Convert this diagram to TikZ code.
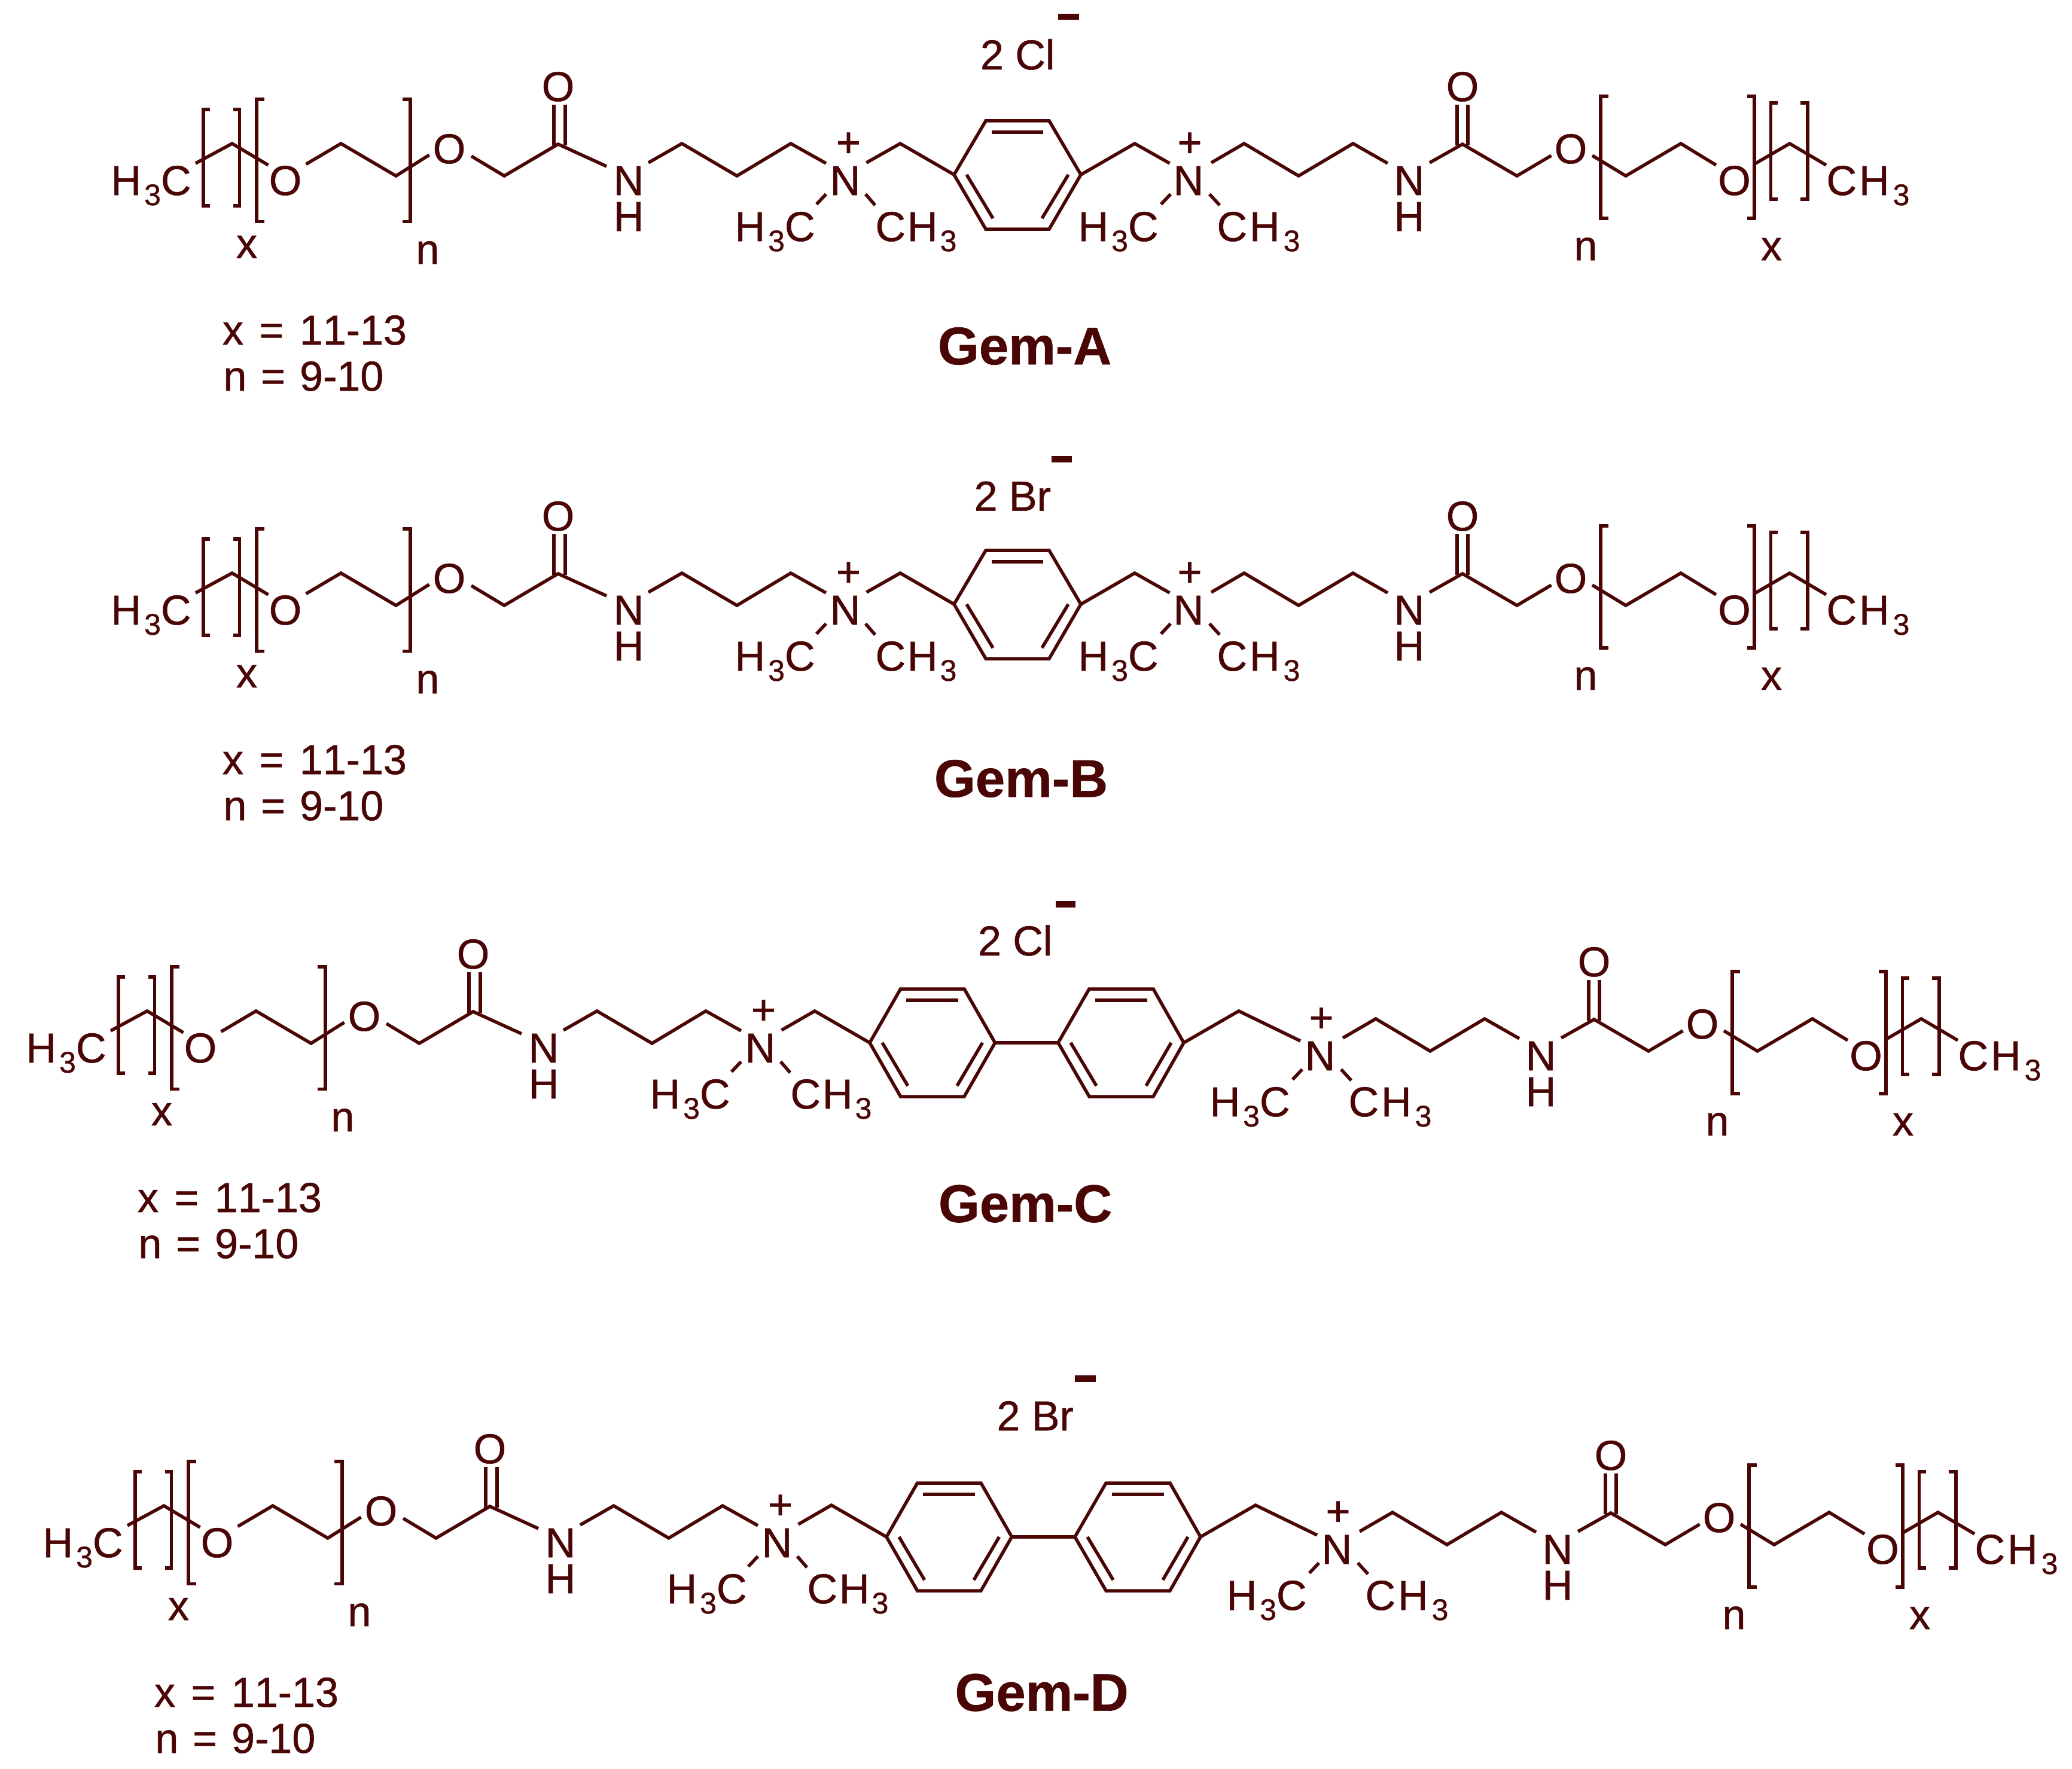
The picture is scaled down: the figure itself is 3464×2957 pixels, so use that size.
\documentclass[tikz,border=0pt]{standalone}
\usepackage{fontspec}
\setmainfont{Liberation Sans}[Kerning=Off,FakeBold=0.8]
\definecolor{gemink}{HTML}{4A0505}
\newcommand{\HCthree}{H\kern5pt{\raisebox{-17pt}{\fontsize{50}{50}\selectfont 3}}C}
\newcommand{\CHthree}{C\kern4pt H\kern6pt{\raisebox{-17pt}{\fontsize{50}{50}\selectfont 3}}}
\newcommand{\CHthreeTight}{C\kern3pt H\kern4pt{\raisebox{-17pt}{\fontsize{50}{50}\selectfont 3}}}
\newcommand{\widegaps}{\spaceskip=24pt\relax}
\newcommand{\widergaps}{\spaceskip=26.5pt\relax}
\tikzset{
  bondline/.style={draw=gemink,line width=5.5pt,line join=miter},
  brk/.style={draw=gemink,line width=5.5pt,line join=miter},
  atomlbl/.style={text=gemink,inner sep=0pt,outer sep=0pt,anchor=base,font=\fontsize{70}{84}\selectfont},
  leftlbl/.style={atomlbl,anchor=base west},
  capt/.style={text=gemink,inner sep=0pt,outer sep=0pt,anchor=base west,font=\fontsize{88.5}{100}\selectfont\bfseries},
}
% bracket: spine x, tick end, top, bottom
\newcommand{\Brk}[4]{\draw[brk] (#2,#3)--(#1,#3)--(#1,#4)--(#2,#4);}
\newcommand{\LeftArm}[3]{%
\begin{scope}[shift={(#2,#3)},name prefix=#1-]
 \node[leftlbl] (ch3) at (185.6,326) {\HCthree};
 \node[atomlbl] (o1) at (477,326) {O};
 \node[atomlbl] (o2) at (751,273) {O};
 \node[atomlbl] (o3) at (933,169) {O};
 \node[atomlbl] (nh) at (1051,326) {N};
 \node[atomlbl] (hh) at (1051,386) {H};
 \node[atomlbl] (np) at (1413,326) {N};
 \node[atomlbl] (pl) at (1418.5,262) {+};
 \node[leftlbl] (me1) at (1228.6,403) {\HCthree};
 \node[leftlbl] (me2) at (1463.5,403) {\CHthreeTight};
 \node[leftlbl] (lx) at (395,431) {x};
 \node[leftlbl] (ln) at (695.4,441) {n};
 \node[leftlbl] (t1) at (372,576) {\widergaps x = 11-13};
 \node[leftlbl] (t2) at (373.4,653) {\widegaps n = 9-10};
 \coordinate (a1) at (327,273); \coordinate (a2) at (388,240); \coordinate (a3) at (448.5,276);
 \coordinate (a4) at (511.6,274.5); \coordinate (a5) at (570,240); \coordinate (a6) at (662,294); \coordinate (a7) at (717.6,259);
 \coordinate (a8) at (788,261); \coordinate (a9) at (843,294); \coordinate (a10) at (933,241); \coordinate (a11) at (1014,278);
 \coordinate (d1) at (926,243); \coordinate (d2) at (926,175); \coordinate (d3) at (945,243); \coordinate (d4) at (945,175);
 \coordinate (a13) at (1084,272); \coordinate (a14) at (1140,240); \coordinate (a15) at (1232,294); \coordinate (a16) at (1322,240); \coordinate (a17) at (1381,273);
 \coordinate (m1) at (1381,324.5); \coordinate (m2) at (1365,341.5); \coordinate (m3) at (1447,324.5); \coordinate (m4) at (1463,343);
 \draw[bondline] (a1)--(a2)--(a3);
 \draw[bondline] (a4)--(a5)--(a6)--(a7);
 \draw[bondline] (a8)--(a9)--(a10)--(a11);
 \draw[bondline] (d1)--(d2); \draw[bondline] (d3)--(d4);
 \draw[bondline] (a13)--(a14)--(a15)--(a16)--(a17);
 \draw[bondline] (m1)--(m2); \draw[bondline] (m3)--(m4);
 \Brk{340}{351}{183}{344}\Brk{400.6}{390}{183}{344}
 \Brk{429}{442}{166}{370.5}\Brk{686}{673}{166}{370.5}
\end{scope}}
\newcommand{\RightArm}[3]{%
\begin{scope}[shift={(#2,#3)},name prefix=#1-]
 \node[atomlbl] (np) at (1987,326) {N};
 \node[atomlbl] (pl) at (1989,262) {+};
 \node[atomlbl] (nh) at (2356,326) {N};
 \node[atomlbl] (hh) at (2356,386) {H};
 \node[atomlbl] (o3) at (2445,169) {O};
 \node[atomlbl] (o2) at (2626,273) {O};
 \node[atomlbl] (o1) at (2899.5,326) {O};
 \node[leftlbl] (ch3) at (3053.5,326) {\CHthree};
 \node[leftlbl] (me1) at (1802.6,403) {\HCthree};
 \node[leftlbl] (me2) at (2034.5,403) {\CHthree};
 \node[leftlbl] (ln) at (2631.4,435) {n};
 \node[leftlbl] (lx) at (2944,435) {x};
 \coordinate (b1) at (2025,272); \coordinate (b2) at (2080,240); \coordinate (b3) at (2171,294); \coordinate (b4) at (2262,240); \coordinate (b5) at (2320,273);
 \coordinate (b6) at (2390,272); \coordinate (b7) at (2445,241); \coordinate (b8) at (2536,294); \coordinate (b9) at (2593.5,260);
 \coordinate (d1) at (2436,243); \coordinate (d2) at (2436,175); \coordinate (d3) at (2454,243); \coordinate (d4) at (2454,175);
 \coordinate (b10) at (2662,260); \coordinate (b11) at (2718,294); \coordinate (b12) at (2810,240); \coordinate (b13) at (2869,276);
 \coordinate (b14) at (2932.5,274.5); \coordinate (b15) at (2992,240); \coordinate (b16) at (3053,276);
 \coordinate (m1) at (1957,324.5); \coordinate (m2) at (1941,341.5); \coordinate (m3) at (2022,324.5); \coordinate (m4) at (2039,343);
 \draw[bondline] (b1)--(b2)--(b3)--(b4)--(b5);
 \draw[bondline] (b6)--(b7)--(b8)--(b9);
 \draw[bondline] (d1)--(d2); \draw[bondline] (d3)--(d4);
 \draw[bondline] (b10)--(b11)--(b12)--(b13);
 \draw[bondline] (b14)--(b15)--(b16);
 \draw[bondline] (m1)--(m2); \draw[bondline] (m3)--(m4);
 \Brk{2676}{2689}{161}{365}\Brk{2933}{2920.5}{161}{365}
 \Brk{2960.5}{2972}{172}{333}\Brk{3022}{3010}{172}{333}
\end{scope}}
% one benzene ring: left vertex x, top-left x, top-right x, right vertex x, y top, mid, bottom
\newcommand{\BenzRing}[8]{%
 \coordinate (#1v1) at (#2,#7); \coordinate (#1v2) at (#3,#6); \coordinate (#1v3) at (#4,#6);
 \coordinate (#1v4) at (#5,#7); \coordinate (#1v5) at (#4,#8); \coordinate (#1v6) at (#3,#8);
 \draw[bondline] (#1v1)--(#1v2)--(#1v3)--(#1v4)--(#1v5)--(#1v6)--cycle;
 \draw[bondline] ($(#1v2)!0.09!(#1v3)+(0,19)$) coordinate (#1i1) -- ($(#1v3)!0.09!(#1v2)+(0,19)$) coordinate (#1i2);
 \draw[bondline] ($(#1v1)+(21,0)$) coordinate (#1i3) -- ($(#1v6)+(12,-18)$) coordinate (#1i4);
 \draw[bondline] ($(#1v4)+(-21,0)$) coordinate (#1i5) -- ($(#1v5)+(-12,-18)$) coordinate (#1i6);
}
\newcommand{\SingleCore}[2]{%
\begin{scope}[shift={(0,#2)},name prefix=#1-]
 \coordinate (c1) at (1448.5,272); \coordinate (c2) at (1505,240);
 \coordinate (c3) at (1897,240); \coordinate (c4) at (1955.5,273);
 \BenzRing{x}{1595}{1648}{1754}{1807}{202}{292}{383}
 \draw[bondline] (c1)--(c2)--(xv1);
 \draw[bondline] (xv4)--(c3)--(c4);
\end{scope}}
\newcommand{\DoubleCore}[3]{%
\begin{scope}[shift={(#2,#3)},name prefix=#1-]
 \coordinate (c1) at (1306.5,1722); \coordinate (c2) at (1362,1690);
 \coordinate (c3) at (2071,1690); \coordinate (c4) at (2174,1740);
 \BenzRing{x}{1454}{1505.6}{1612}{1663.5}{1653}{1743}{1833}
 \BenzRing{y}{1769}{1821}{1928}{1979}{1653}{1743}{1833}
 \draw[bondline] (c1)--(c2)--(xv1);
 \draw[bondline] (xv4)--(yv1);
 \draw[bondline] (yv4)--(c3)--(c4);
\end{scope}}
\usetikzlibrary{calc}
\begin{document}
\begin{tikzpicture}[x=1pt,y=-1pt]
\useasboundingbox (0,0) rectangle (3464,2957);
\fill[white] (0,0) rectangle (3464,2957);
% Gem-A
\LeftArm{al}{0}{0}
\RightArm{ar}{0}{0}
\SingleCore{ac}{0}
\node[leftlbl] (aanion) at (1639,116) {2 Cl};
\fill[gemink] (1769,23) rectangle (1804,33.5);
\node[capt] (acap) at (1568,609) {Gem-A};
% Gem-B
\LeftArm{bl}{0}{718}
\RightArm{br}{0}{718}
\SingleCore{bc}{718}
\node[leftlbl] (banion) at (1628.6,853.6) {2 Br};
\fill[gemink] (1758,761.5) rectangle (1792,773);
\node[capt] (bcap) at (1562,1332) {Gem-B};
% Gem-C
\LeftArm{cl}{-142}{1450}
\RightArm{cr}{220}{1463}
\DoubleCore{cc}{0}{0}
\node[leftlbl] (canion) at (1635,1597) {2 Cl};
\fill[gemink] (1764.5,1506) rectangle (1798,1517);
\node[capt] (ccap) at (1569,2042.6) {Gem-C};
% Gem-D
\LeftArm{dl}{-114}{2277}
\RightArm{dr}{248}{2288}
\DoubleCore{dc}{28}{826}
\node[leftlbl] (danion) at (1666.5,2391) {2 Br};
\fill[gemink] (1797,2298.7) rectangle (1832,2310);
\node[capt] (dcap) at (1596.5,2859.6) {Gem-D};
\end{tikzpicture}
\end{document}
